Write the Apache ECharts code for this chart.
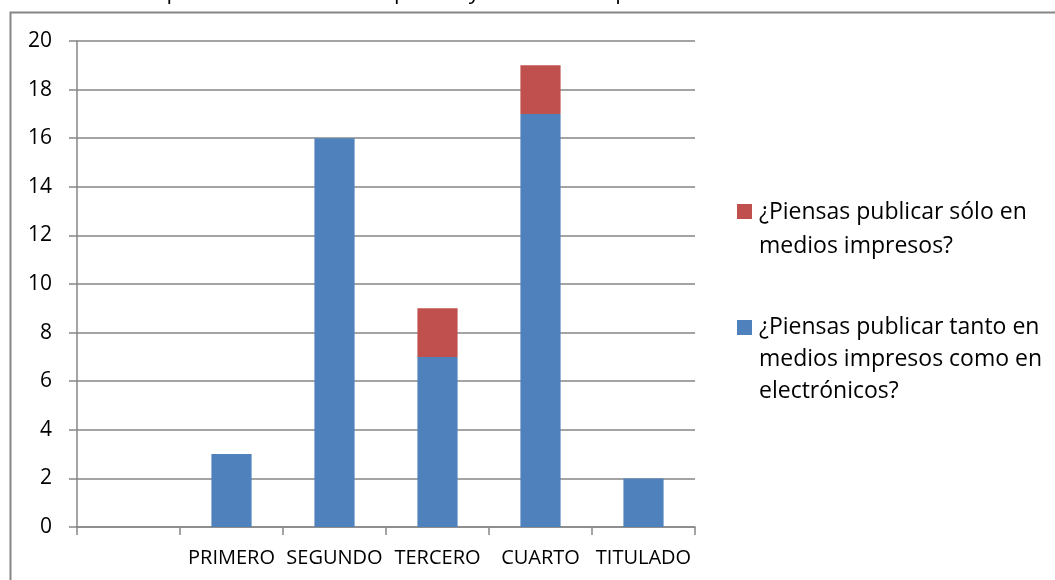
<!DOCTYPE html>
<html>
<head>
<meta charset="utf-8">
<script src="https://cdn.jsdelivr.net/npm/echarts@6/dist/echarts.min.js"></script>
<style>
  html, body { margin: 0; padding: 0; background: #ffffff; }
  #chart { width: 1055px; height: 580px; }
</style>
</head>
<body>
<div id="chart"></div>
<script>
// Semester categories (the first slot is left empty)
var categories = ['', 'PRIMERO', 'SEGUNDO', 'TERCERO', 'CUARTO', 'TITULADO'];

// Answers per semester
var soloImpresos = [null, 0, 0, 2, 2, 0];
var ambosMedios = [null, 3, 16, 7, 17, 2];

// Series names, split into the lines shown in the legend
var soloImpresosLines = ['¿Piensas publicar sólo en', 'medios impresos?'];
var ambosMediosLines = ['¿Piensas publicar tanto en', 'medios impresos como en', 'electrónicos?'];

// Y axis ticks
var yMin = 0, yMax = 20, yStep = 2;

var headerText = 'Intención de publicar en medios impresos y electrónicos para el doctorado';

var RED = '#C0504D';
var BLUE = '#4F81BD';
var GRAY = '#868686';
var FONT = '"Open Sans", "Noto Sans", sans-serif';

var chart = echarts.init(document.getElementById('chart'), null, { renderer: 'canvas' });

chart.setOption({
  animation: false,
  backgroundColor: '#ffffff',
  textStyle: { fontFamily: FONT },
  grid: { left: 77, right: 360, top: 41, bottom: 53, containLabel: false },
  xAxis: {
    type: 'category',
    data: categories,
    boundaryGap: true,
    axisLine: { show: true, lineStyle: { color: GRAY, width: 1.5 } },
    axisTick: { show: true, length: 8, lineStyle: { color: GRAY, width: 1.5 } },
    axisLabel: { color: '#000', fontSize: 20, fontFamily: FONT, margin: 21, interval: 0 },
    splitLine: { show: false }
  },
  yAxis: {
    type: 'value',
    min: yMin,
    max: yMax,
    interval: yStep,
    axisLine: { show: true, lineStyle: { color: GRAY, width: 1.5 } },
    axisTick: { show: true, length: 8, lineStyle: { color: GRAY, width: 1.5 } },
    axisLabel: { color: '#000', fontSize: 21, fontFamily: FONT, margin: 25 },
    splitLine: { show: true, lineStyle: { color: GRAY, width: 1.5 } }
  },
  series: [
    {
      name: ambosMediosLines.join(' '),
      type: 'bar',
      stack: 'total',
      barWidth: '39%',
      itemStyle: { color: BLUE },
      data: ambosMedios
    },
    {
      name: soloImpresosLines.join(' '),
      type: 'bar',
      stack: 'total',
      barWidth: '39%',
      itemStyle: { color: RED },
      data: soloImpresos
    }
  ],
  graphic: [
    // outer chart frame
    {
      type: 'rect', left: 8, top: 10, silent: true,
      shape: { width: 1100, height: 620 },
      style: { fill: 'none', stroke: GRAY, lineWidth: 2 }
    },
    // header line above the frame
    {
      type: 'text', x: 33, y: 4, silent: true,
      style: { text: headerText, fontSize: 22, fontFamily: FONT, fill: '#000', verticalAlign: 'bottom', align: 'left' }
    },
    // legend entries
    {
      type: 'rect', left: 737, top: 204, silent: true,
      shape: { width: 15, height: 15 },
      style: { fill: RED }
    },
    {
      type: 'text', x: 759, y: 195, silent: true,
      style: { text: soloImpresosLines.join('\n'), fontSize: 23, lineHeight: 34, fontFamily: FONT, fill: '#000', verticalAlign: 'top' }
    },
    {
      type: 'rect', left: 737, top: 320, silent: true,
      shape: { width: 15, height: 15 },
      style: { fill: BLUE }
    },
    {
      type: 'text', x: 759, y: 311, silent: true,
      style: { text: ambosMediosLines.join('\n'), fontSize: 23, lineHeight: 32, fontFamily: FONT, fill: '#000', verticalAlign: 'top' }
    }
  ]
});
</script>
</body>
</html>
